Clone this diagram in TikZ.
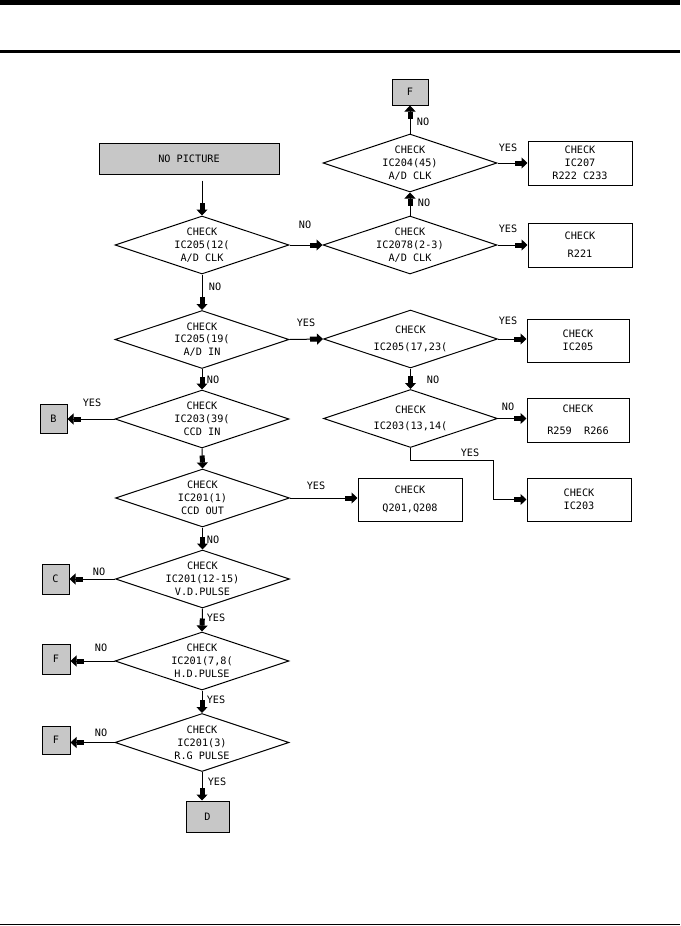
\documentclass[tikz,border=0pt]{standalone}
\usepackage{fontspec}
\setmonofont{DejaVu Sans Mono}
\usetikzlibrary{arrows.meta,shapes.geometric}

\tikzset{
    txt/.style={font=\ttfamily\fontsize{10.2}{12.8}\selectfont, align=center, inner sep=0pt},
    dec/.style={diamond, draw, minimum width=174pt, minimum height=58pt, inner sep=0pt},
    chk/.style={draw, minimum width=104pt, minimum height=44pt, inner sep=0pt},
    term/.style={draw, fill=black!22, inner sep=0pt},
    arr/.style={-{Rectangle[length=7pt,width=5pt]Triangle[length=6pt,width=11pt]}},
}

\begin{document}
\begin{tikzpicture}[x=1pt, y=-1pt, line width=1pt]
        \useasboundingbox (0, 0) rectangle (680, 926);
        \fill (0, 0) rectangle (680, 5); % top bar
        \draw[line width=3pt] (0, 51.5) -- (680, 51.5);
        \draw[line width=1pt] (0, 924.5) -- (680, 924.5);

        % left column
        \node[term, minimum width=180pt, minimum height=31pt] (start) at (189, 158.5) {};
        \node[txt] (start-t) at (start) {NO PICTURE};

        \node[dec] (d1) at (202, 245) {};
        \node[txt] (d1-t) at (d1) {CHECK\\IC205(12(\\A/D CLK};
        \node[dec] (d4) at (202, 339.5) {};
        \node[txt] (d4-t) at (d4) {CHECK\\IC205(19(\\A/D IN};
        \node[dec] (d5) at (202, 419) {};
        \node[txt] (d5-t) at (d5) {CHECK\\IC203(39(\\CCD IN};
        \node[dec] (d8) at (202.5, 498) {};
        \node[txt] (d8-t) at (d8) {CHECK\\IC201(1)\\CCD OUT};
        \node[dec] (d9) at (202.5, 579) {};
        \node[txt] (d9-t) at (d9) {CHECK\\IC201(12-15)\\V.D.PULSE};
        \node[dec] (d10) at (202, 661) {};
        \node[txt] (d10-t) at (d10) {CHECK\\IC201(7,8(\\H.D.PULSE};
        \node[dec] (d11) at (202, 742.5) {};
        \node[txt] (d11-t) at (d11) {CHECK\\IC201(3)\\R.G PULSE};

        \node[term, minimum width=27pt, minimum height=29pt] (b) at (53.5, 419) {};
        \node[txt] (b-t) at (b) {B};
        \node[term, minimum width=27pt, minimum height=30pt] (c) at (55.5, 579) {};
        \node[txt] (c-t) at (c) {C};
        \node[term, minimum width=28pt, minimum height=30pt] (f2) at (56, 659) {};
        \node[txt] (f2-t) at (f2) {F};
        \node[term, minimum width=28pt, minimum height=28pt] (f3) at (56, 740) {};
        \node[txt] (f3-t) at (f3) {F};
        \node[term, minimum width=43pt, minimum height=31pt] (d) at (207.5, 816.5) {};
        \node[txt] (d-t) at (d) {D};

        % right column
        \node[dec] (d2) at (410, 245) {};
        \node[txt] (d2-t) at (d2) {CHECK\\IC2078(2-3)\\A/D CLK};
        \node[dec] (d3) at (410, 163) {};
        \node[txt] (d3-t) at (d3) {CHECK\\IC204(45)\\A/D CLK};
        \node[term, minimum width=36pt, minimum height=26pt] (f1) at (410, 92) {};
        \node[txt] (f1-t) at (f1) {F};
        \node[dec] (d6) at (410.5, 339) {};
        \node[txt] (d6-t) at (d6) {CHECK\\[4pt]IC205(17,23(};
        \node[dec] (d7) at (410.5, 418.5) {};
        \node[txt] (d7-t) at (d7) {CHECK\\[4pt]IC203(13,14(};

        \node[chk] (ic207) at (580, 163) {};
        \node[txt] (ic207-t) at (ic207) {CHECK\\IC207\\R222 C233};
        \node[chk] (r221) at (580, 245) {};
        \node[txt] (r221-t) at (r221) {CHECK\\[5pt]R221};
        \node[chk, minimum width=102pt, minimum height=43pt] (ic205) at (578, 340.5) {};
        \node[txt] (ic205-t) at (ic205) {CHECK\\IC205};
        \node[chk, minimum width=102pt] (r259) at (578, 420) {};
        \node[txt] (r259-t) at (r259) {CHECK\\[9pt]R259~~R266};
        \node[chk, minimum height=43pt] (ic203) at (579, 499.5) {};
        \node[txt] (ic203-t) at (ic203) {CHECK\\IC203};
        \node[chk, minimum height=43pt] (q201) at (410, 499.5) {};
        \node[txt] (q201-t) at (q201) {CHECK\\[6pt]Q201,Q208};
        \coordinate (kink) at (493, 460);

        % connectors
        \draw[arr, shorten <=6pt] (start.south -| d1.north) -- (d1.north);
        \draw[arr] (d1.east) -- (d2.west);
        \draw[arr] (d2.north) -- (d3.south);
        \draw[arr] (d3.north) -- (f1.south);
        \draw[arr] (d3.east) -- (ic207.west);
        \draw[arr] (d2.east) -- (r221.west);
        \draw[arr] (d1.south) -- (d4.north);
        \draw[arr] (d4.east) -- (d6.west);
        \draw[arr] (d6.east) -- (d6.east -| ic205.west);
        \draw[arr] (d6.south) -- (d7.north);
        \draw[arr] (d7.east) -- (d7.east -| r259.west);
        \draw[arr] (d7.south) |- (kink) |- (ic203.west);
        \draw[arr] (d4.south) -- (d5.north);
        \draw[arr] (d5.west) -- (d5.west -| b.east);
        \draw[arr] (d5.south) -- (d8.north);
        \draw[arr] (d8.east) -- (d8.east -| q201.west);
        \draw[arr] (d8.south) -- (d9.north);
        \draw[arr] (d9.west) -- (d9.west -| c.east);
        \draw[arr] (d9.south) -- (d10.north);
        \draw[arr] (d10.west) -- (d10.west -| f2.east);
        \draw[arr] (d10.south) -- (d11.north);
        \draw[arr] (d11.west) -- (d11.west -| f3.east);
        \draw[arr] (d11.south) -- (d11.south |- d.north);

        % labels
        \node[txt] (l1) at (305, 225) {NO};
        \node[txt] (l2) at (424, 203) {NO};
        \node[txt] (l3) at (423, 122) {NO};
        \node[txt] (l4) at (508, 148) {YES};
        \node[txt] (l5) at (508, 229) {YES};
        \node[txt] (l6) at (215, 287) {NO};
        \node[txt] (l7) at (306, 323) {YES};
        \node[txt] (l8) at (508, 321) {YES};
        \node[txt] (l9) at (433, 380) {NO};
        \node[txt] (l10) at (508, 407) {NO};
        \node[txt] (l11) at (470, 453) {YES};
        \node[txt] (l12) at (213, 380) {NO};
        \node[txt] (l13) at (92, 403) {YES};
        \node[txt] (l14) at (316, 486) {YES};
        \node[txt] (l15) at (213, 540) {NO};
        \node[txt] (l16) at (99, 572) {NO};
        \node[txt] (l17) at (216, 618) {YES};
        \node[txt] (l18) at (101, 648) {NO};
        \node[txt] (l19) at (216, 700) {YES};
        \node[txt] (l20) at (101, 733) {NO};
        \node[txt] (l21) at (217, 782) {YES};
    \end{tikzpicture}
\end{document}
